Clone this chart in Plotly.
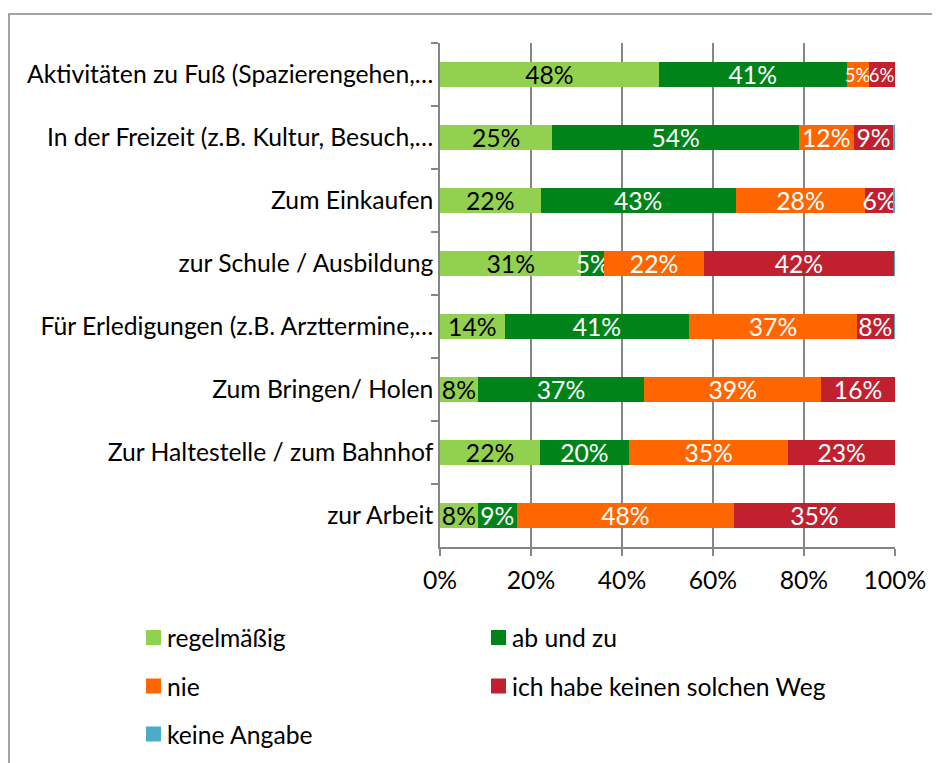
import plotly.graph_objects as go

categories = [
    "Aktivitäten zu Fuß (Spazierengehen,…",
    "In der Freizeit (z.B. Kultur, Besuch,…",
    "Zum Einkaufen",
    "zur Schule / Ausbildung",
    "Für Erledigungen (z.B. Arzttermine,…",
    "Zum Bringen/ Holen",
    "Zur Haltestelle / zum Bahnhof",
    "zur Arbeit",
]
series_names = ["regelmäßig", "ab und zu", "nie", "ich habe keinen solchen Weg", "keine Angabe"]
regelmaessig = [48.1, 24.7, 22.1, 31.1, 14.2, 8.3, 22.0, 8.3]
ab_und_zu = [41.3, 54.2, 42.9, 5.0, 40.6, 36.6, 19.5, 8.6]
nie = [4.8, 12.0, 28.5, 21.9, 36.8, 38.9, 35.1, 47.7]
kein_weg = [5.8, 8.8, 6.2, 41.8, 8.2, 16.2, 23.4, 35.4]
keine_angabe = [0.0, 0.3, 0.3, 0.2, 0.3, 0.0, 0.0, 0.0]
x_ticks = [0, 20, 40, 60, 80, 100]
x_tick_labels = ["0%", "20%", "40%", "60%", "80%", "100%"]

series_values = [regelmaessig, ab_und_zu, nie, kein_weg, keine_angabe]
colors = ["#92D050", "#00841A", "#FF6600", "#C1202F", "#4BACC6"]
text_colors = ["#000000", "#FFFFFF", "#FFFFFF", "#FFFFFF", "#FFFFFF"]

FONT = "Lato"
FS = 24.7
FS_TIGHT = 18.5
OFF = 8  # browser body margin
W, H = 940, 763
L, R, T, B = 440 - OFF, 45 + OFF, 43 - OFF, 216 + OFF
PW, PH = W - L - R, H - T - B


def px_x(p):
    return (p - OFF - L) / PW


def px_y(p):
    return (H - B - (p - OFF)) / PH


def label_sizes(si):
    # shrink a label only when it and a neighbouring labelled segment are both very narrow
    sizes = []
    for ci in range(len(categories)):
        v = series_values[si][ci]
        tight = False
        if 1 <= v < 6:
            for nj in (si - 1, si + 1):
                if 0 <= nj < len(series_values) and 1 <= series_values[nj][ci] < 6:
                    tight = True
        sizes.append(FS_TIGHT if tight else FS)
    return sizes


fig = go.Figure()
for si, (name, vals, col, tcol) in enumerate(zip(series_names, series_values, colors, text_colors)):
    fig.add_trace(go.Bar(
        y=categories, x=vals, name=name, orientation="h",
        marker=dict(color=col, line=dict(width=0)),
        text=[f"{round(v)}%" if v >= 1 else "" for v in vals],
        textposition="inside", insidetextanchor="middle", textangle=0,
        constraintext="none", cliponaxis=False,
        textfont=dict(family=FONT, size=label_sizes(si), color=tcol),
        showlegend=False, hoverinfo="skip",
    ))

shapes = [dict(type="rect", xref="paper", yref="paper",
               x0=px_x(9), x1=px_x(960), y0=px_y(14), y1=px_y(790),
               line=dict(color="#868686", width=1.5), fillcolor="rgba(0,0,0,0)", layer="below")]
annotations = []
legend_pos = [(146, 637.5), (491, 637.5), (146, 686), (491, 686), (146, 734)]
for name, col, (lx, ly) in zip(series_names, colors, legend_pos):
    shapes.append(dict(type="rect", xref="paper", yref="paper",
                       x0=px_x(lx), x1=px_x(lx + 15), y0=px_y(ly - 7.5), y1=px_y(ly + 7.5),
                       line=dict(width=0), fillcolor=col))
    annotations.append(dict(xref="paper", yref="paper", x=px_x(lx + 19), y=px_y(ly),
                            xanchor="left", yanchor="middle", text=name, showarrow=False,
                            font=dict(family=FONT, size=FS, color="#000000")))

fig.update_layout(
    width=W, height=H,
    margin=dict(l=L, r=R, t=T, b=B, pad=0),
    barmode="stack", bargap=0.6,
    paper_bgcolor="white", plot_bgcolor="white",
    font=dict(family=FONT, size=FS, color="#000000"),
    shapes=shapes, annotations=annotations,
    showlegend=False,
)
fig.update_xaxes(
    range=[0, 100.02], tickvals=x_ticks, ticktext=x_tick_labels,
    showgrid=True, gridcolor="#868686", gridwidth=1.5,
    showline=True, linecolor="#868686", linewidth=1.5,
    ticks="outside", ticklen=7, tickcolor="#868686", tickwidth=1.5,
    ticklabelstandoff=4,
    zeroline=False, fixedrange=True,
    tickfont=dict(family=FONT, size=FS, color="#000000"),
)
fig.update_yaxes(
    categoryorder="array", categoryarray=categories, autorange="reversed",
    showline=True, linecolor="#868686", linewidth=1.5,
    ticks="outside", ticklen=7, tickcolor="#868686", tickwidth=1.5,
    tickson="boundaries", showgrid=False, fixedrange=True,
    tickfont=dict(family=FONT, size=FS, color="#000000"),
)

fig.write_html("out.html")
